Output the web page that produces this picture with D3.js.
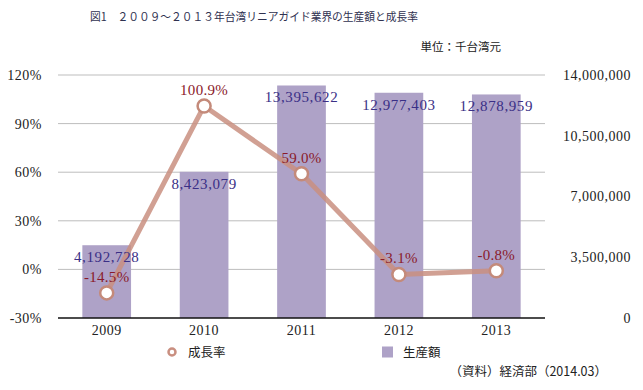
<!DOCTYPE html>
<html><head><meta charset="utf-8">
<script src="https://cdn.jsdelivr.net/npm/d3@7"></script>
<style>body{margin:0;background:#fff}svg{display:block}</style>
</head><body><svg id="c" width="643" height="390"></svg>
<script>
const years = ["2009","2010","2011","2012","2013"];
const production = [4192728, 8423079, 13395622, 12977403, 12878959];
const growth = [-14.5, 100.9, 59.0, -3.1, -0.8];
const leftTicks = [-30, 0, 30, 60, 90, 120];
const rightTicks = [0, 3500000, 7000000, 10500000, 14000000];
const title = "図1　２００９～２０１３年台湾リニアガイド業界の生産額と成長率";
const unitText = "単位：千台湾元";
const sourceText = "（資料）経済部（2014.03）";
const legendNames = ["成長率", "生産額"];

const svg = d3.select("#c");
const L = 58, R = 545, T = 75, B = 318;
const serif = "'Liberation Serif','DejaVu Serif',serif";
const cjk = "'Noto Sans CJK JP',sans-serif";

const x = d3.scaleBand().domain(years).range([L, R]).paddingInner(0.5).paddingOuter(0.25);
const yL = d3.scaleLinear().domain([-30, 120]).range([B, T]);
const yR = d3.scaleLinear().domain([0, 14000000]).range([B, T]);
const xc = d => x(d) + x.bandwidth() / 2;

// gridlines
svg.append("g").selectAll("line").data(leftTicks.filter(t => t > -30)).join("line")
  .attr("x1", L).attr("x2", R).attr("y1", d => yL(d)).attr("y2", d => yL(d))
  .attr("stroke", "#bdbdbd").attr("stroke-width", 1);

// bars
svg.append("g").selectAll("rect").data(production).join("rect")
  .attr("x", (d, i) => x(years[i])).attr("width", x.bandwidth())
  .attr("y", d => yR(d)).attr("height", d => B - yR(d))
  .attr("fill", "#aea2c7");

// baseline
svg.append("line").attr("x1", L).attr("x2", R).attr("y1", B).attr("y2", B)
  .attr("stroke", "#111").attr("stroke-width", 1.5);

// left axis
const la = svg.append("g").attr("transform", `translate(${L},0)`)
  .call(d3.axisLeft(yL).tickValues(leftTicks).tickSize(0).tickPadding(16).tickFormat(d => d + "%"));
la.select(".domain").remove();
la.selectAll("text").attr("font-family", serif).attr("font-size", 14).attr("fill", "#222").attr("letter-spacing", 0.5);

// right axis
const ra = svg.append("g").attr("transform", `translate(631,0)`)
  .call(d3.axisLeft(yR).tickValues(rightTicks).tickSize(0).tickPadding(0).tickFormat(d3.format(",")));
ra.select(".domain").remove();
ra.selectAll("text").attr("font-family", serif).attr("font-size", 14).attr("fill", "#222").attr("letter-spacing", 0.5);

// bottom axis
const ba = svg.append("g").attr("transform", `translate(0,${B})`)
  .call(d3.axisBottom(x).tickSize(0).tickPadding(7));
ba.select(".domain").remove();
ba.selectAll("text").attr("font-family", serif).attr("font-size", 14).attr("fill", "#222").attr("letter-spacing", 0.5);

// line
const line = d3.line().x((d, i) => xc(years[i])).y(d => yL(d));
svg.append("path").datum(growth).attr("d", line).attr("fill", "none")
  .attr("stroke", "#c98f80").attr("stroke-opacity", 0.85).attr("stroke-width", 5).attr("stroke-linejoin", "round");
svg.append("g").selectAll("circle").data(growth).join("circle")
  .attr("cx", (d, i) => xc(years[i])).attr("cy", d => yL(d)).attr("r", 6.5)
  .attr("fill", "#fff").attr("stroke", "#c48a7a").attr("stroke-width", 2.5);

// bar labels
svg.append("g").selectAll("text").data(production).join("text")
  .attr("x", (d, i) => xc(years[i])).attr("y", d => yR(d) + 17)
  .attr("text-anchor", "middle").attr("font-family", serif).attr("font-size", 15)
  .attr("letter-spacing", 0.6).attr("fill", "#3a2f86").text(d => d3.format(",")(d));

// growth labels
svg.append("g").selectAll("text").data(growth).join("text")
  .attr("x", (d, i) => xc(years[i])).attr("y", d => yL(d) - 11)
  .attr("text-anchor", "middle").attr("font-family", serif).attr("font-size", 15)
  .attr("letter-spacing", 0.3).attr("fill", "#8a1a2a").text(d => d.toFixed(1) + "%");

// title
svg.append("text").attr("x", 90).attr("y", 21).attr("font-family", cjk).attr("font-size", 11.5)
  .attr("fill", "#2f3150").attr("textLength", 328).attr("lengthAdjust", "spacingAndGlyphs").text(title);
svg.append("text").attr("x", 501).attr("y", 51).attr("text-anchor", "end").attr("font-family", cjk)
  .attr("font-size", 11.5).attr("fill", "#222").text(unitText);

// legend
const lg = svg.append("g");
lg.append("circle").attr("cx", 172).attr("cy", 352).attr("r", 3.5).attr("fill", "#fff")
  .attr("stroke", "#c98f80").attr("stroke-width", 2.5);
lg.append("text").attr("x", 188).attr("y", 356.5).attr("font-family", cjk).attr("font-size", 12.5)
  .attr("fill", "#222").text(legendNames[0]);
lg.append("rect").attr("x", 382).attr("y", 346.5).attr("width", 11).attr("height", 11).attr("fill", "#aea2c7");
lg.append("text").attr("x", 403).attr("y", 356.5).attr("font-family", cjk).attr("font-size", 12.5)
  .attr("fill", "#222").text(legendNames[1]);

svg.append("text").attr("x", 607).attr("y", 376).attr("text-anchor", "end").attr("font-family", cjk)
  .attr("font-size", 12.5).attr("fill", "#222").text(sourceText);
</script></body></html>
